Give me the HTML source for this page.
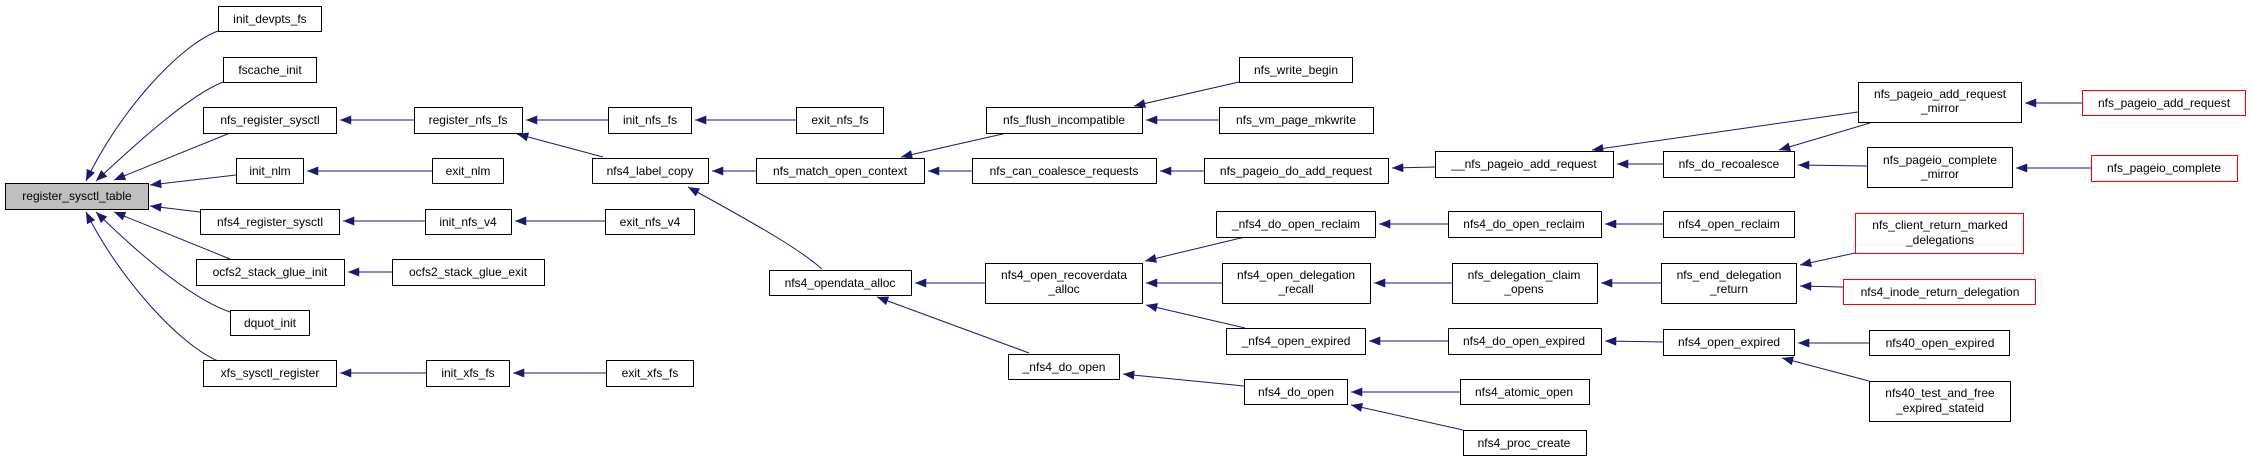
<!DOCTYPE html>
<html><head><meta charset="utf-8"><style>
html,body{margin:0;padding:0;background:#fff;}
svg{display:block;}
text{font-family:"Liberation Sans",sans-serif;font-size:12px;fill:#000;text-anchor:middle;}
rect{fill:#fff;stroke:#000;stroke-width:1;}
rect.red{stroke:#f00;}
rect.root{fill:#bfbfbf;}
path.e{fill:none;stroke:#191970;stroke-width:1;marker-end:url(#a);}
</style></head><body>
<svg width="2251" height="461" viewBox="0 0 2251 461" xmlns="http://www.w3.org/2000/svg">
<defs><marker id="a" viewBox="0 0 10 8" refX="10" refY="4" markerWidth="12" markerHeight="9" markerUnits="userSpaceOnUse" orient="auto"><path d="M0,0 L10,4 L0,8 z" fill="#191970"/></marker></defs>
<g>
<path class="e" d="M218,31 C180,45 120,110 86,181"/>
<path class="e" d="M223,82 C190,95 140,140 96,181"/>
<path class="e" d="M230,133 L114,180"/>
<path class="e" d="M236,175 L150,185"/>
<path class="e" d="M200,212 L150,206"/>
<path class="e" d="M230,259 L114,212"/>
<path class="e" d="M230,312 C190,298 140,255 96,212"/>
<path class="e" d="M218,361 C180,345 120,280 86,212"/>
<path class="e" d="M414,120 L340,120"/>
<path class="e" d="M608,120 L526,120"/>
<path class="e" d="M796,120 L695,120"/>
<path class="e" d="M603,157 L517,134"/>
<path class="e" d="M432,171 L307,171"/>
<path class="e" d="M425,221 L343,221"/>
<path class="e" d="M605,221 L515,221"/>
<path class="e" d="M392,272 L348,272"/>
<path class="e" d="M426,373 L340,373"/>
<path class="e" d="M606,373 L513,373"/>
<path class="e" d="M756,171 L712,171"/>
<path class="e" d="M822,269 C800,250 770,232 688,187"/>
<path class="e" d="M1007,133 L901,157"/>
<path class="e" d="M972,171 L928,171"/>
<path class="e" d="M1239,82 L1134,106"/>
<path class="e" d="M1219,120 L1146,120"/>
<path class="e" d="M1204,171 L1160,171"/>
<path class="e" d="M1435,167 L1392,168"/>
<path class="e" d="M985,283 L915,283"/>
<path class="e" d="M1029,353 L877,297"/>
<path class="e" d="M1245,237 L1145,261"/>
<path class="e" d="M1222,283 L1146,283"/>
<path class="e" d="M1245,328 L1146,305"/>
<path class="e" d="M1244,386 L1123,374"/>
<path class="e" d="M1448,224 L1379,224"/>
<path class="e" d="M1452,283 L1374,283"/>
<path class="e" d="M1448,341 L1369,341"/>
<path class="e" d="M1460,392 L1351,392"/>
<path class="e" d="M1463,430 L1351,405"/>
<path class="e" d="M1663,164 L1617,164"/>
<path class="e" d="M1858,112 L1592,150"/>
<path class="e" d="M1870,123 L1779,150"/>
<path class="e" d="M1867,166 L1798,165"/>
<path class="e" d="M2082,103 L2025,103"/>
<path class="e" d="M2091,168 L2016,168"/>
<path class="e" d="M1663,224 L1605,224"/>
<path class="e" d="M1661,283 L1601,283"/>
<path class="e" d="M1663,342 L1605,341"/>
<path class="e" d="M1855,253 L1800,265"/>
<path class="e" d="M1843,287 L1800,286"/>
<path class="e" d="M1869,343 L1798,343"/>
<path class="e" d="M1869,381 L1782,358"/>
</g>
<g>
<rect class="root" x="5.5" y="183.5" width="143" height="26"/><text x="77" y="200">register_sysctl_table</text>
<rect x="218.5" y="6.5" width="103" height="25"/><text x="270" y="23">init_devpts_fs</text>
<rect x="223.5" y="57.5" width="93" height="25"/><text x="270" y="74">fscache_init</text>
<rect x="203.5" y="107.5" width="133" height="26"/><text x="270" y="124">nfs_register_sysctl</text>
<rect x="236.5" y="158.5" width="67" height="25"/><text x="270" y="175">init_nlm</text>
<rect x="200.5" y="209.5" width="139" height="25"/><text x="270" y="226">nfs4_register_sysctl</text>
<rect x="196.5" y="259.5" width="148" height="26"/><text x="270" y="276">ocfs2_stack_glue_init</text>
<rect x="230.5" y="310.5" width="79" height="25"/><text x="270" y="327">dquot_init</text>
<rect x="203.5" y="360.5" width="133" height="26"/><text x="270" y="377">xfs_sysctl_register</text>
<rect x="414.5" y="107.5" width="108" height="26"/><text x="468" y="124">register_nfs_fs</text>
<rect x="432.5" y="158.5" width="71" height="25"/><text x="468" y="175">exit_nlm</text>
<rect x="425.5" y="209.5" width="86" height="25"/><text x="468" y="226">init_nfs_v4</text>
<rect x="392.5" y="259.5" width="152" height="26"/><text x="468" y="276">ocfs2_stack_glue_exit</text>
<rect x="426.5" y="360.5" width="83" height="26"/><text x="468" y="377">init_xfs_fs</text>
<rect x="608.5" y="107.5" width="83" height="26"/><text x="650" y="124">init_nfs_fs</text>
<rect x="592.5" y="158.5" width="116" height="25"/><text x="650" y="175">nfs4_label_copy</text>
<rect x="605.5" y="209.5" width="89" height="25"/><text x="650" y="226">exit_nfs_v4</text>
<rect x="606.5" y="360.5" width="87" height="26"/><text x="650" y="377">exit_xfs_fs</text>
<rect x="796.5" y="107.5" width="87" height="26"/><text x="840" y="124">exit_nfs_fs</text>
<rect x="756.5" y="158.5" width="168" height="25"/><text x="840" y="175">nfs_match_open_context</text>
<rect x="769.5" y="270.5" width="142" height="25"/><text x="840" y="287">nfs4_opendata_alloc</text>
<rect x="986.5" y="107.5" width="156" height="26"/><text x="1064" y="124">nfs_flush_incompatible</text>
<rect x="972.5" y="158.5" width="184" height="25"/><text x="1064" y="175">nfs_can_coalesce_requests</text>
<rect x="985.5" y="263.5" width="157" height="40"/><text x="1064" y="279">nfs4_open_recoverdata</text><text x="1064" y="293">_alloc</text>
<rect x="1008.5" y="354.5" width="111" height="25"/><text x="1064" y="371">_nfs4_do_open</text>
<rect x="1239.5" y="57.5" width="113" height="25"/><text x="1296" y="74">nfs_write_begin</text>
<rect x="1219.5" y="107.5" width="154" height="26"/><text x="1296" y="124">nfs_vm_page_mkwrite</text>
<rect x="1204.5" y="158.5" width="184" height="25"/><text x="1296" y="175">nfs_pageio_do_add_request</text>
<rect x="1216.5" y="211.5" width="159" height="26"/><text x="1296" y="228">_nfs4_do_open_reclaim</text>
<rect x="1222.5" y="263.5" width="148" height="40"/><text x="1296" y="279">nfs4_open_delegation</text><text x="1296" y="293">_recall</text>
<rect x="1226.5" y="328.5" width="139" height="26"/><text x="1296" y="345">_nfs4_open_expired</text>
<rect x="1244.5" y="379.5" width="103" height="25"/><text x="1296" y="396">nfs4_do_open</text>
<rect x="1435.5" y="151.5" width="178" height="26"/><text x="1524" y="168">__nfs_pageio_add_request</text>
<rect x="1448.5" y="211.5" width="153" height="26"/><text x="1524" y="228">nfs4_do_open_reclaim</text>
<rect x="1452.5" y="263.5" width="145" height="40"/><text x="1524" y="279">nfs_delegation_claim</text><text x="1524" y="293">_opens</text>
<rect x="1448.5" y="328.5" width="153" height="26"/><text x="1524" y="345">nfs4_do_open_expired</text>
<rect x="1460.5" y="379.5" width="129" height="25"/><text x="1524" y="396">nfs4_atomic_open</text>
<rect x="1463.5" y="430.5" width="123" height="25"/><text x="1524" y="447">nfs4_proc_create</text>
<rect x="1663.5" y="151.5" width="131" height="26"/><text x="1729" y="168">nfs_do_recoalesce</text>
<rect x="1663.5" y="211.5" width="131" height="26"/><text x="1729" y="228">nfs4_open_reclaim</text>
<rect x="1661.5" y="263.5" width="135" height="40"/><text x="1729" y="279">nfs_end_delegation</text><text x="1729" y="293">_return</text>
<rect x="1663.5" y="329.5" width="131" height="26"/><text x="1729" y="346">nfs4_open_expired</text>
<rect x="1858.5" y="82.5" width="163" height="40"/><text x="1940" y="98">nfs_pageio_add_request</text><text x="1940" y="112">_mirror</text>
<rect x="1867.5" y="147.5" width="145" height="40"/><text x="1940" y="164">nfs_pageio_complete</text><text x="1940" y="178">_mirror</text>
<rect class="red" x="1855.5" y="213.5" width="168" height="40"/><text x="1940" y="229">nfs_client_return_marked</text><text x="1940" y="244">_delegations</text>
<rect class="red" x="1843.5" y="279.5" width="192" height="25"/><text x="1940" y="296">nfs4_inode_return_delegation</text>
<rect x="1869.5" y="330.5" width="140" height="25"/><text x="1940" y="347">nfs40_open_expired</text>
<rect x="1869.5" y="381.5" width="141" height="40"/><text x="1940" y="397">nfs40_test_and_free</text><text x="1940" y="412">_expired_stateid</text>
<rect class="red" x="2082.5" y="90.5" width="163" height="25"/><text x="2164" y="107">nfs_pageio_add_request</text>
<rect class="red" x="2091.5" y="155.5" width="146" height="26"/><text x="2164" y="172">nfs_pageio_complete</text>
</g>
</svg>
</body></html>
